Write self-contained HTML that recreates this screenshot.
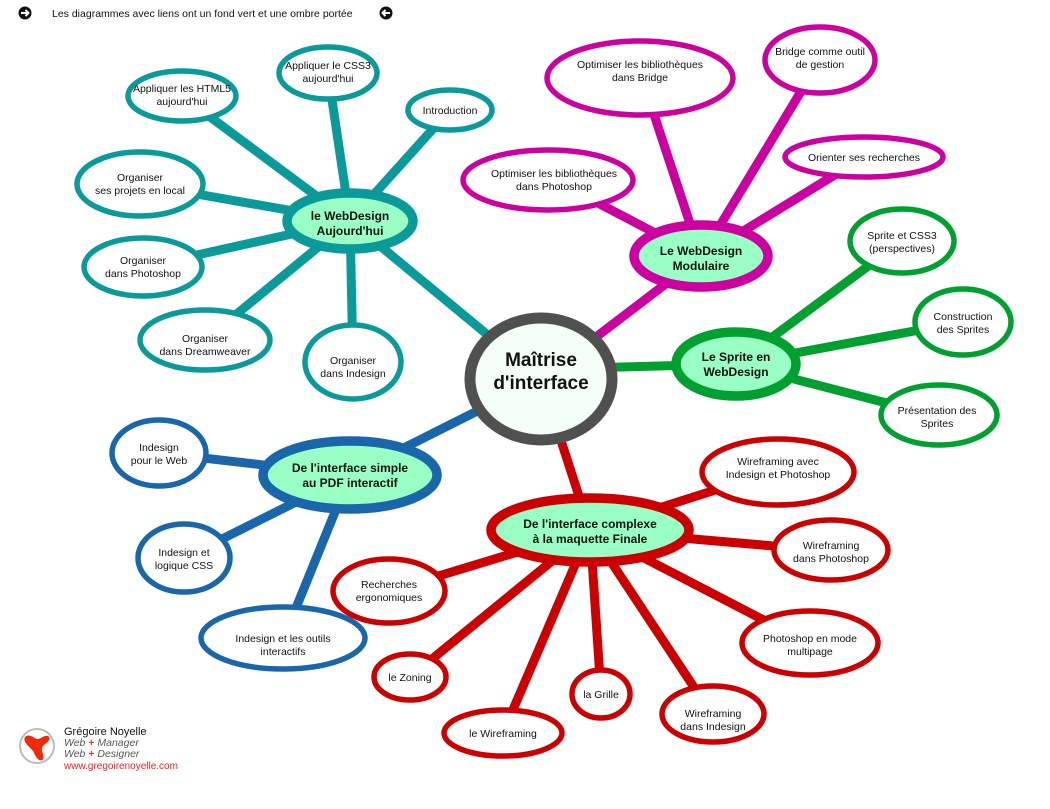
<!DOCTYPE html>
<html><head><meta charset="utf-8"><style>
body{margin:0;background:#fff;width:1050px;height:804px;overflow:hidden;font-family:"Liberation Sans",sans-serif}
svg text{font-family:"Liberation Sans",sans-serif}
</style></head><body>
<svg width="1050" height="804" viewBox="0 0 1050 804" xmlns="http://www.w3.org/2000/svg">
<circle cx="25" cy="13" r="6.5" fill="#111"/><path d="M21 13h7M25.5 10l3 3-3 3" stroke="#fff" stroke-width="2" fill="none"/>
<text x="52" y="17" font-size="10.5" fill="#111">Les diagrammes avec liens ont un fond vert et une ombre portée</text>
<circle cx="386" cy="13" r="6.5" fill="#111"/><path d="M390 13h-7M385.5 10l-3 3 3 3" stroke="#fff" stroke-width="2" fill="none"/>

<g stroke-linecap="butt">
<g stroke="#0a9a9a" stroke-width="9">
<line x1="350" y1="221" x2="541" y2="379"/>
<line x1="350" y1="221" x2="182" y2="96"/>
<line x1="350" y1="221" x2="328" y2="73"/>
<line x1="350" y1="221" x2="450" y2="110"/>
<line x1="350" y1="221" x2="140" y2="184"/>
<line x1="350" y1="221" x2="143" y2="267"/>
<line x1="350" y1="221" x2="205" y2="340"/>
<line x1="350" y1="221" x2="353" y2="362"/>
</g>
<g stroke="#cc00a0" stroke-width="9">
<line x1="701" y1="257" x2="541" y2="379"/>
<line x1="701" y1="257" x2="640" y2="72"/>
<line x1="701" y1="257" x2="820" y2="60"/>
<line x1="701" y1="257" x2="864" y2="157"/>
<line x1="701" y1="257" x2="554" y2="180"/>
</g>
<g stroke="#00a030" stroke-width="9">
<line x1="736" y1="364" x2="541" y2="369"/>
<line x1="736" y1="364" x2="902" y2="241"/>
<line x1="736" y1="364" x2="963" y2="322"/>
<line x1="736" y1="364" x2="937" y2="416"/>
</g>
<g stroke="#1a66aa" stroke-width="9">
<line x1="350" y1="475" x2="541" y2="379"/>
<line x1="350" y1="475" x2="160" y2="453"/>
<line x1="350" y1="475" x2="184" y2="558"/>
<line x1="350" y1="475" x2="283" y2="640"/>
</g>
<g stroke="#cc0000" stroke-width="9">
<line x1="590" y1="530" x2="541" y2="379"/>
<line x1="590" y1="530" x2="778" y2="470"/>
<line x1="590" y1="530" x2="831" y2="551"/>
<line x1="590" y1="530" x2="810" y2="644"/>
<line x1="590" y1="530" x2="713" y2="716"/>
<line x1="590" y1="530" x2="601" y2="693"/>
<line x1="590" y1="530" x2="503" y2="733"/>
<line x1="590" y1="530" x2="410" y2="677"/>
<line x1="590" y1="530" x2="389" y2="591"/>
</g>
</g>

<g fill="#fff" stroke-width="5.5">
<g stroke="#0a9a9a">
<ellipse cx="182" cy="96" rx="54" ry="25"/>
<ellipse cx="328" cy="73" rx="49" ry="26"/>
<ellipse cx="450" cy="110" rx="42" ry="20"/>
<ellipse cx="140" cy="184" rx="63" ry="32"/>
<ellipse cx="143" cy="267" rx="59" ry="29"/>
<ellipse cx="205" cy="340" rx="65" ry="30"/>
<ellipse cx="353" cy="362" rx="48" ry="37"/>
</g>
<g stroke="#cc00a0">
<ellipse cx="640" cy="78" rx="93" ry="37"/>
<ellipse cx="820" cy="60" rx="55" ry="33"/>
<ellipse cx="864" cy="157" rx="79" ry="20"/>
<ellipse cx="548" cy="180" rx="85" ry="30"/>
</g>
<g stroke="#00a030">
<ellipse cx="902" cy="241" rx="52" ry="32"/>
<ellipse cx="963" cy="322" rx="48" ry="33"/>
<ellipse cx="939" cy="415" rx="58" ry="30"/>
</g>
<g stroke="#1a66aa">
<ellipse cx="159" cy="453" rx="47" ry="33"/>
<ellipse cx="184" cy="558" rx="46" ry="34"/>
<ellipse cx="283" cy="638" rx="82" ry="31"/>
</g>
<g stroke="#cc0000">
<ellipse cx="778" cy="472" rx="76" ry="33"/>
<ellipse cx="831" cy="550" rx="57" ry="30"/>
<ellipse cx="810" cy="643" rx="68" ry="32"/>
<ellipse cx="713" cy="714" rx="51" ry="28"/>
<ellipse cx="601" cy="694" rx="29" ry="24"/>
<ellipse cx="503" cy="733" rx="59" ry="23"/>
<ellipse cx="410" cy="677" rx="36" ry="23"/>
<ellipse cx="389" cy="591" rx="56" ry="32"/>
</g>
</g>

<g fill="#99ffc4" stroke-width="9.5">
<ellipse cx="350" cy="221" rx="63" ry="28" stroke="#0a9a9a"/>
<ellipse cx="701" cy="256" rx="67" ry="31" stroke="#cc00a0"/>
<ellipse cx="736" cy="364" rx="60" ry="32" stroke="#00a030"/>
<ellipse cx="350" cy="475" rx="87" ry="34" stroke="#1a66aa"/>
<ellipse cx="590" cy="530" rx="99" ry="32" stroke="#cc0000"/>
</g>
<ellipse cx="541" cy="379" rx="71" ry="61" fill="#f4fff8" stroke="#505050" stroke-width="11"/>

<g font-size="10.5" fill="#111" text-anchor="middle">
<text x="182" y="92">Appliquer les HTML5</text><text x="182" y="105">aujourd'hui</text>
<text x="328" y="69">Appliquer le CSS3</text><text x="328" y="82">aujourd'hui</text>
<text x="450" y="114">Introduction</text>
<text x="140" y="181">Organiser</text><text x="140" y="194">ses projets en local</text>
<text x="143" y="264">Organiser</text><text x="143" y="277">dans Photoshop</text>
<text x="205" y="342">Organiser</text><text x="205" y="355">dans Dreamweaver</text>
<text x="353" y="364">Organiser</text><text x="353" y="377">dans Indesign</text>
<text x="640" y="68">Optimiser les bibliothèques</text><text x="640" y="81">dans Bridge</text>
<text x="820" y="55">Bridge comme outil</text><text x="820" y="68">de gestion</text>
<text x="864" y="161">Orienter ses recherches</text>
<text x="554" y="177">Optimiser les bibliothèques</text><text x="554" y="190">dans Photoshop</text>
<text x="902" y="239">Sprite et CSS3</text><text x="902" y="252">(perspectives)</text>
<text x="963" y="320">Construction</text><text x="963" y="333">des Sprites</text>
<text x="937" y="414">Présentation des</text><text x="937" y="427">Sprites</text>
<text x="159" y="451">Indesign</text><text x="159" y="464">pour le Web</text>
<text x="184" y="556">Indesign et</text><text x="184" y="569">logique CSS</text>
<text x="283" y="642">Indesign et les outils</text><text x="283" y="655">interactifs</text>
<text x="778" y="465">Wireframing avec</text><text x="778" y="478">Indesign et Photoshop</text>
<text x="831" y="549">Wireframing</text><text x="831" y="562">dans Photoshop</text>
<text x="810" y="642">Photoshop en mode</text><text x="810" y="655">multipage</text>
<text x="713" y="717">Wireframing</text><text x="713" y="730">dans Indesign</text>
<text x="601" y="698">la Grille</text>
<text x="503" y="737">le Wireframing</text>
<text x="410" y="681">le Zoning</text>
<text x="389" y="588">Recherches</text><text x="389" y="601">ergonomiques</text>
</g>
<g font-size="12" font-weight="bold" fill="#111" text-anchor="middle">
<text x="350" y="220">le WebDesign</text><text x="350" y="235">Aujourd'hui</text>
<text x="701" y="255">Le WebDesign</text><text x="701" y="270">Modulaire</text>
<text x="736" y="361">Le Sprite en</text><text x="736" y="376">WebDesign</text>
<text x="350" y="472">De l'interface simple</text><text x="350" y="487">au PDF interactif</text>
<text x="590" y="528">De l'interface complexe</text><text x="590" y="543">à la maquette Finale</text>
<text x="541" y="366" font-size="19">Maîtrise</text><text x="541" y="389" font-size="19">d'interface</text>
</g>

<circle cx="37" cy="746" r="17" fill="#fff" stroke="#bbb" stroke-width="2"/>
<path d="M25 737c4-4 9 1 12 2 3 1 9-6 12-2 3 4-6 7-7 11-1 4 4 10 0 12-4 2-7-5-9-9-2-3-11-9-8-14z" fill="#ee2a0a"/>
<text x="64" y="735" font-size="11" fill="#111">Grégoire Noyelle</text>
<text x="64" y="746" font-size="10.5" fill="#555" font-style="italic">Web <tspan fill="#e03a2a" font-weight="bold" font-style="normal">+</tspan> Manager</text>
<text x="64" y="757" font-size="10.5" fill="#555" font-style="italic">Web <tspan fill="#e03a2a" font-weight="bold" font-style="normal">+</tspan> Designer</text>
<text x="64" y="769" font-size="10" fill="#ff1a1a">www.gregoirenoyelle.com</text>
</svg>
</body></html>
